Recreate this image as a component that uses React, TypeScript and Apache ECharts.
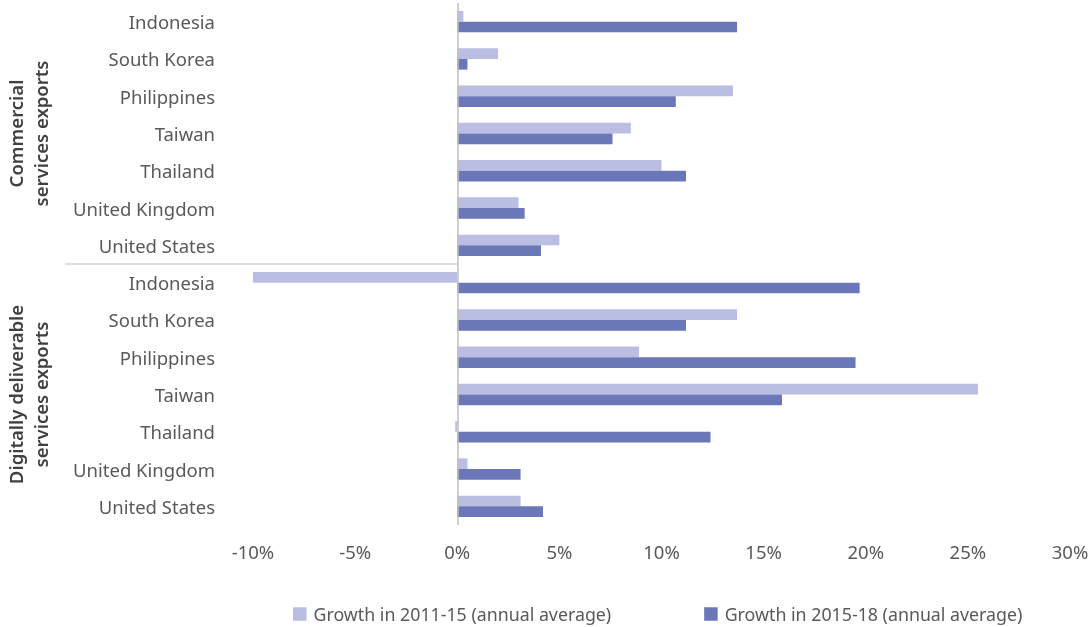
import React, { useEffect, useRef } from "react";
import * as echarts from "echarts";

const countries = ["Indonesia", "South Korea", "Philippines", "Taiwan", "Thailand", "United Kingdom", "United States"];
const groups = ["Commercial\nservices exports", "Digitally deliverable\nservices exports"];
const seriesNames = ["Growth in 2011-15 (annual average)", "Growth in 2015-18 (annual average)"];
const growth2011_15 = [0.3, 2.0, 13.5, 8.5, 10.0, 3.0, 5.0, -10.0, 13.7, 8.9, 25.5, -0.1, 0.5, 3.1];
const growth2015_18 = [13.7, 0.5, 10.7, 7.6, 11.2, 3.3, 4.1, 19.7, 11.2, 19.5, 15.9, 12.4, 3.1, 4.2];
const xTicks = { min: -10, max: 30, interval: 5 };

const FONT = "Noto Sans";
const FS = 18.5;
const GRID = { left: 253, right: 22, top: 3, bottom: 102 };
const W = 1092;
const H = 627;

export default function App() {
  const ref = useRef<HTMLDivElement>(null);
  useEffect(() => {
    if (!ref.current) return;
    const chart = echarts.init(ref.current, undefined, { renderer: "svg" });
    const cats: string[] = [];
    groups.forEach((g, gi) => countries.forEach((c) => cats.push(gi + "|" + c)));
    const plotH = H - GRID.top - GRID.bottom;
    const band = plotH / cats.length;
    const graphics: any[] = [];
    groups.forEach((g, gi) => {
      const cy = GRID.top + band * (countries.length * gi + countries.length / 2);
      graphics.push({
        type: "text",
        x: 28,
        y: cy,
        rotation: Math.PI / 2,
        style: {
          text: g,
          fontFamily: FONT,
          fontSize: FS,
          fontWeight: 600,
          fill: "#404040",
          align: "center",
          verticalAlign: "middle",
          lineHeight: 25,
        },
      });
    });
    const sepY = GRID.top + band * countries.length;
    graphics.push({
      type: "line",
      shape: { x1: 65, y1: sepY, x2: 457, y2: sepY },
      style: { stroke: "#bfbfbf", lineWidth: 1 },
    });
    chart.setOption({
      animation: false,
      textStyle: { fontFamily: FONT },
      grid: { ...GRID, containLabel: false },
      xAxis: {
        type: "value",
        min: xTicks.min,
        max: xTicks.max,
        interval: xTicks.interval,
        axisLine: { show: false },
        axisTick: { show: false },
        splitLine: { show: false },
        axisLabel: { formatter: "{value}%", color: "#595959", fontSize: FS, margin: 17, fontFamily: FONT },
      },
      yAxis: {
        type: "category",
        inverse: true,
        data: cats,
        axisLine: { show: false },
        axisTick: { show: false },
        axisLabel: {
          formatter: (v: string) => v.split("|")[1],
          color: "#595959",
          fontSize: FS,
          margin: 38,
          padding: [0, 0, 3, 0],
          fontFamily: FONT,
        },
      },
      legend: {
        left: 288,
        top: 600,
        icon: "rect",
        itemWidth: 13.5,
        itemHeight: 13.5,
        itemGap: 93,
        textStyle: { color: "#595959", fontSize: 17.8, fontFamily: FONT, padding: [0, 0, 0, 2] },
        data: seriesNames,
      },
      series: [
        {
          name: seriesNames[0],
          type: "bar",
          data: growth2011_15,
          barWidth: 10.7,
          barGap: "0%",
          itemStyle: { color: "#BABEE2" },
          markLine: {
            silent: true,
            symbol: "none",
            label: { show: false },
            lineStyle: { color: "#bfbfbf", width: 1.5, type: "solid" },
            data: [{ xAxis: 0 }],
          },
        },
        {
          name: seriesNames[1],
          type: "bar",
          data: growth2015_18,
          barWidth: 10.7,
          barGap: "0%",
          itemStyle: { color: "#6A78B9" },
        },
      ],
      graphic: graphics,
    });
    return () => chart.dispose();
  }, []);
  return <div ref={ref} style={{ position: "fixed", left: 0, top: 0, width: W, height: H }} />;
}
